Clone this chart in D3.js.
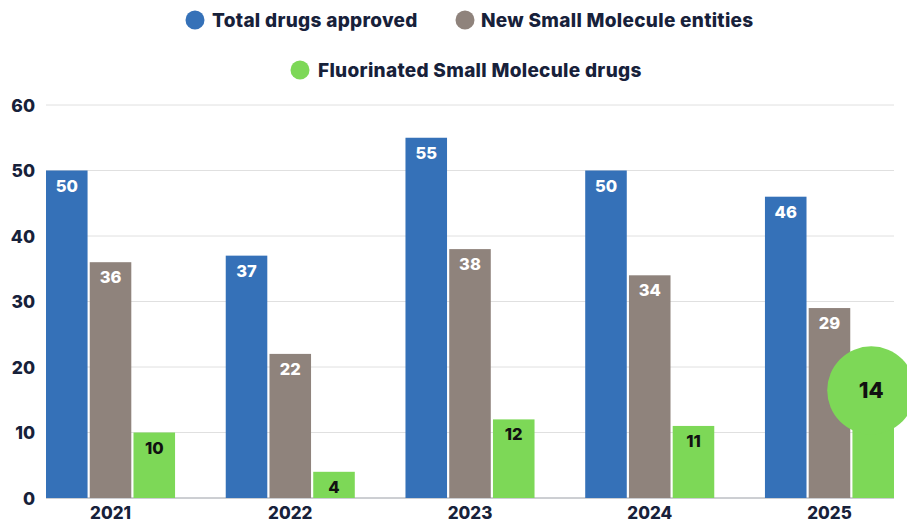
<!DOCTYPE html>
<html><head><meta charset="utf-8">
<script src="https://cdn.jsdelivr.net/npm/d3@7"></script>
<style>body{margin:0;background:#fff;}svg{display:block;font-family:Inter,"Open Sans",sans-serif;}</style>
</head><body>
<svg id="c" width="907" height="523"></svg>
<script>
const years = ["2021","2022","2023","2024","2025"];
const seriesNames = ["Total drugs approved","New Small Molecule entities","Fluorinated Small Molecule drugs"];
const totalApproved = [50,37,55,50,46];
const newSmallMolecule = [36,22,38,34,29];
const fluorinated = [10,4,12,11,14];
const yTicks = [0,10,20,30,40,50,60];
const colors = ["#3571b8","#8f837c","#7dd857"];
const highlightYear = "2025";

const svg = d3.select("#c");
const x0 = d3.scaleBand().domain(years).range([46,894]).paddingInner(0.282).paddingOuter(0);
const keys = [0,1,2];
const x1 = d3.scaleBand().domain(keys).range([0,x0.bandwidth()]).paddingInner(0.05);
const y = d3.scaleLinear().domain([0,60]).range([498,105]);
const series = [totalApproved,newSmallMolecule,fluorinated];
const navy = "#17213a";

// gridlines
svg.append("g").selectAll("line").data(yTicks).join("line")
  .attr("x1",46).attr("x2",894).attr("y1",d=>y(d)).attr("y2",d=>y(d))
  .attr("stroke",d=>d===0?"#9a9ea6":"#e0e0e0").attr("stroke-width",1);

// y axis labels
const yAxis = d3.axisLeft(y).tickValues(yTicks).tickSize(0).tickPadding(0);
const ga = svg.append("g").attr("transform","translate(35,0)").call(yAxis);
ga.select(".domain").remove();
ga.selectAll("text").attr("font-size",17.5).attr("font-weight",800).attr("fill",navy)
  .attr("font-family","Inter,sans-serif").attr("dy","0.35em");

// x axis labels
const xAxis = d3.axisBottom(x0).tickSize(0).tickPadding(0);
const gx = svg.append("g").attr("transform","translate(0,507)").call(xAxis);
gx.select(".domain").remove();
gx.selectAll("text").attr("font-size",17).attr("font-weight",800).attr("fill",navy)
  .attr("font-family","Inter,sans-serif").attr("dy","0.71em");

// bars
const data = [];
years.forEach((yr,i)=>keys.forEach(k=>data.push({yr,k,v:series[k][i]})));
const g = svg.append("g");
g.selectAll("rect").data(data).join("rect")
  .attr("x",d=>x0(d.yr)+x1(d.k)).attr("width",x1.bandwidth())
  .attr("y",d=>y(d.v)).attr("height",d=>y(0)-y(d.v)).attr("fill",d=>colors[d.k]);

// highlight circle
const hi = data.find(d=>d.yr===highlightYear && d.k===2);
const cx = x0(hi.yr)+x1(2)+x1.bandwidth()/2 - 2, cy = y(hi.v)-16;
g.append("circle").attr("cx",cx).attr("cy",cy).attr("r",44).attr("fill",colors[2]);

// value labels
g.selectAll("text.v").data(data.filter(d=>d!==hi)).join("text").attr("class","v")
  .attr("x",d=>x0(d.yr)+x1(d.k)+x1.bandwidth()/2).attr("y",d=>y(d.v)+21)
  .attr("text-anchor","middle").attr("font-size",16.5).attr("font-weight",800)
  .attr("font-family","Inter,sans-serif")
  .attr("fill",d=>d.k===2?"#111":"#fff").text(d=>d.v);
g.append("text").attr("x",cx).attr("y",cy).attr("dy","0.36em").attr("text-anchor","middle")
  .attr("font-size",22).attr("font-weight",800).attr("font-family","Inter,sans-serif")
  .attr("fill","#111").text(hi.v);

// legend
const leg = [{k:0,cx:195,cy:20,tx:212},{k:1,cx:465,cy:20,tx:481},{k:2,cx:300,cy:70,tx:318}];
const lg = svg.append("g");
lg.selectAll("circle").data(leg).join("circle").attr("cx",d=>d.cx).attr("cy",d=>d.cy).attr("r",9.5)
  .attr("fill",d=>colors[d.k]);
lg.selectAll("text").data(leg).join("text").attr("x",d=>d.tx).attr("y",d=>d.cy).attr("dy","0.35em")
  .attr("font-size",19).attr("font-weight",800).attr("font-family","Inter,sans-serif")
  .attr("letter-spacing","0.3px")
  .attr("fill",navy).text(d=>seriesNames[d.k]);
</script>
</body></html>
